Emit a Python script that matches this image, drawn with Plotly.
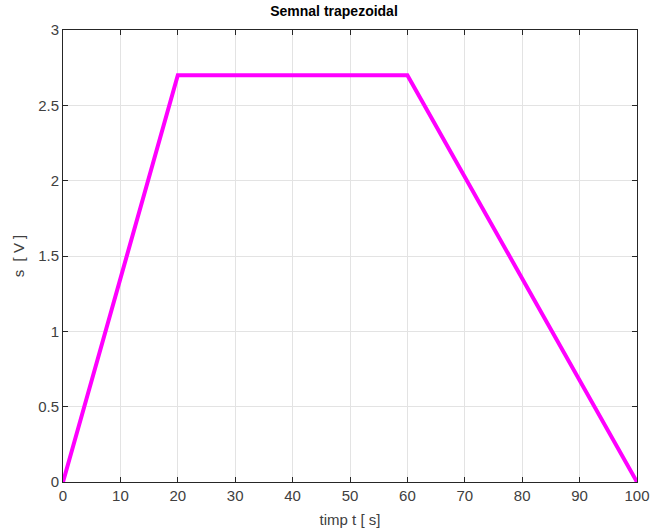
import plotly.graph_objects as go

# Trapezoidal signal breakpoints
timp = [0, 20, 60, 100]
semnal = [0, 2.7, 2.7, 0]

x_ticks = [0, 10, 20, 30, 40, 50, 60, 70, 80, 90, 100]
y_ticks = [0, 0.5, 1, 1.5, 2, 2.5, 3]

axis_color = "#262626"
grid_color = "#e3e3e3"
font_family = "Arial, Liberation Sans, sans-serif"

fig = go.Figure()
fig.add_trace(go.Scatter(
    x=timp, y=semnal, mode="lines",
    line=dict(color="#ff00ff", width=4),
    showlegend=False,
))

common_axis = dict(
    showline=True, linecolor=axis_color, linewidth=1, mirror="ticks",
    ticks="inside", ticklen=5, tickcolor=axis_color, tickwidth=1,
    showgrid=True, gridcolor=grid_color, gridwidth=1,
    zeroline=False, automargin=False,
    tickfont=dict(family=font_family, size=15, color="#404040"),
)

fig.update_layout(
    width=652, height=532,
    margin=dict(l=63, r=15, t=30, b=50),
    paper_bgcolor="white", plot_bgcolor="white",
    title=dict(text="<b>Semnal trapezoidal</b>", x=334 / 652, xref="container",
               xanchor="center",
               y=1, yref="container", yanchor="top", pad=dict(t=6),
               font=dict(family=font_family, size=14, color="black")),
    xaxis=dict(range=[0, 100], tickvals=x_ticks,
               title=dict(text="timp t [ s]", standoff=11,
                          font=dict(family=font_family, size=15, color="#404040")),
               **common_axis),
    yaxis=dict(range=[0, 3], tickvals=y_ticks,
               title=dict(text="s  [ V ]", standoff=9,
                          font=dict(family=font_family, size=15, color="#404040")),
               **common_axis),
)

fig.write_html("out.html")
